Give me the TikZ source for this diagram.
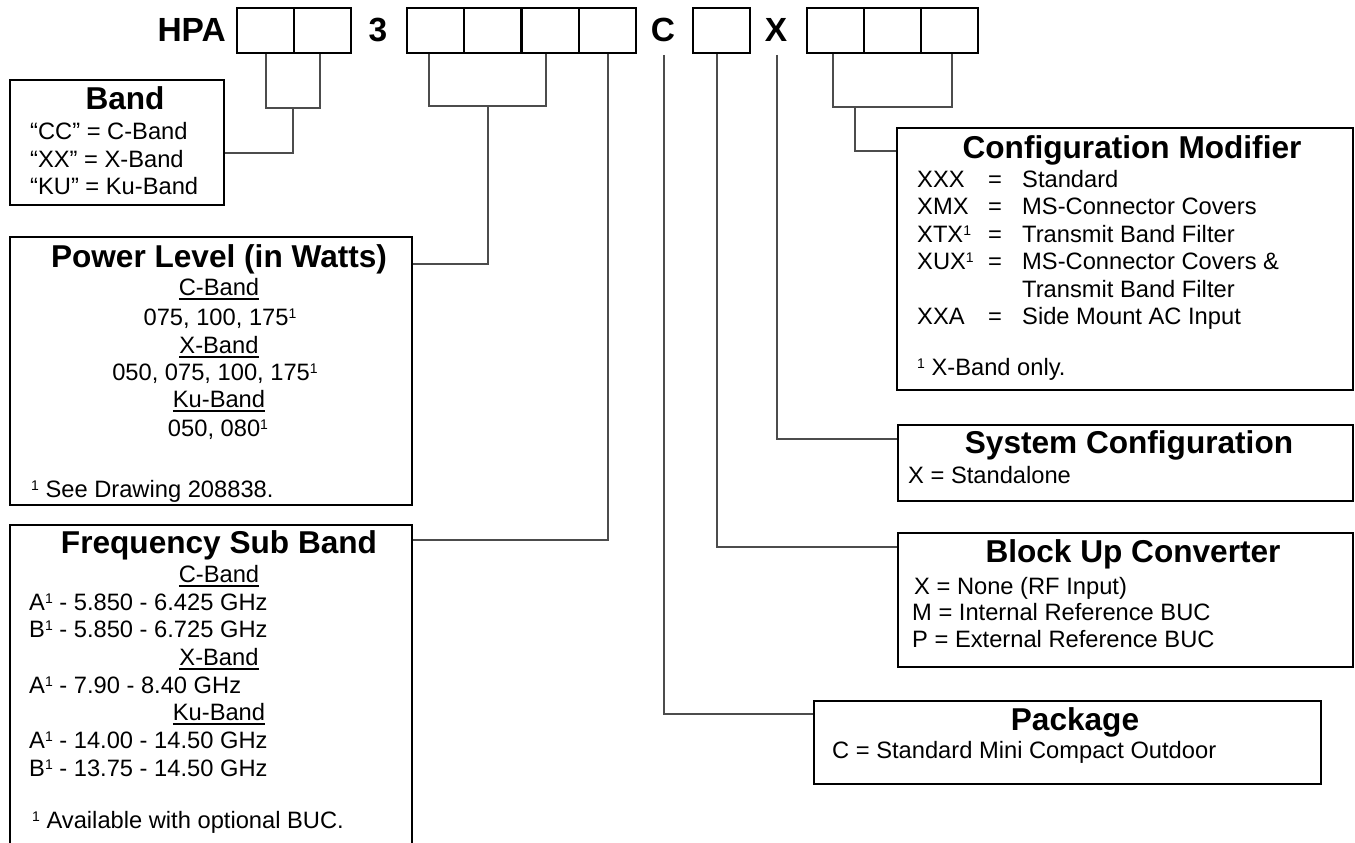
\documentclass[tikz,border=0pt]{standalone}
\usepackage{fontspec}
\setmainfont{Liberation Sans}
\newcommand\supone{\raisebox{7pt}{\fontsize{14}{14}\selectfont 1}}
\newcommand\ulword[1]{\sbox0{#1}\rlap{\rule[-5pt]{\wd0}{1.8pt}}\usebox0}
\tikzset{
  cell/.style={draw, line width=2.2pt, minimum width=57pt, minimum height=45pt, inner sep=0pt, anchor=north west},
  code/.style={font=\fontsize{33.5}{36}\selectfont\bfseries, inner sep=0pt, anchor=base},
  box/.style={draw, line width=1.8pt, inner sep=0pt, anchor=north west},
  conn/.style={draw=black!70, line width=1.4pt},
  ttl/.style={font=\fontsize{31.6}{34}\selectfont\bfseries, inner sep=0pt, anchor=base},
  txt/.style={font=\fontsize{23.7}{27}\selectfont, inner sep=0pt, anchor=base west},
  ctr/.style={font=\fontsize{23.7}{27}\selectfont, inner sep=0pt, anchor=base},
}
\begin{document}
\begin{tikzpicture}[x=1pt,y=-1pt]
\useasboundingbox (0,0) rectangle (1355,843);
\clip (0,0) rectangle (1355,843);
% code row
\node[code, anchor=base east] (hpa) at (226,42) {HPA};
\node[cell] (a1) at (236,7) {};
\node[cell] (a2) at (293,7) {};
\node[code] (three) at (378,42) {3};
\node[cell] (p1) at (406,7) {};
\node[cell] (p2) at (463,7) {};
\node[cell] (p3) at (521,7) {};
\node[cell] (p4) at (578,7) {};
\node[code] (cC) at (663,42) {C};
\node[cell] (cm) at (692,7) {};
\node[code] (cX) at (776,42) {X};
\node[cell] (q1) at (806,7) {};
\node[cell] (q2) at (863,7) {};
\node[cell] (q3) at (920,7) {};

% boxes
\node[box, minimum width=214pt, minimum height=125pt] (band) at (9,79) {};
\node[box, minimum width=402pt, minimum height=268pt] (power) at (9,236) {};
\node[box, minimum width=402pt, minimum height=340pt] (freq) at (9,524) {};
\node[box, minimum width=456pt, minimum height=262pt] (cfg) at (896,127) {};
\node[box, minimum width=455pt, minimum height=76pt] (sys) at (897,424) {};
\node[box, minimum width=455pt, minimum height=134pt] (buc) at (897,532) {};
\node[box, minimum width=507pt, minimum height=83pt] (pkg) at (813,700) {};

% connectors
\coordinate (jA) at (293,108);
\draw[conn] (a1.south -| 266,0) |- (jA) -| (a2.south -| 320,0);
\draw[conn] (jA) |- (band.east |- 0,153);
\coordinate (jB) at (488,106);
\draw[conn] (p1.south -| 429,0) |- (jB) -| (p3.south -| 546,0);
\draw[conn] (jB) |- (power.east |- 0,264);
\draw[conn] (p4.south -| 608,0) |- (freq.east |- 0,540);
\coordinate (cCb) at (664,55);
\draw[conn] (cCb) |- (pkg.west |- 0,714);
\draw[conn] (cm.south -| 717,0) |- (buc.west |- 0,547);
\coordinate (cXb) at (777,55);
\draw[conn] (cXb) |- (sys.west |- 0,439);
\coordinate (jC) at (855,107);
\draw[conn] (q1.south -| 833,0) |- (jC) -| (q3.south -| 952,0);
\draw[conn] (jC) |- (cfg.west |- 0,151);

% Band
\node[ttl] (bandT) at (125,110) {Band};
\node[txt] (band1) at (30,139) {“CC” = C-Band};
\node[txt] (band2) at (30,167) {“XX” = X-Band};
\node[txt] (band3) at (30,194) {“KU” = Ku-Band};

% Power
\node[ttl] (powT) at (219,267) {Power Level (in Watts)};
\node[ctr] (pow1) at (219,295) {\ulword{C-Band}};
\node[ctr] (pow2) at (220,325) {075, 100, 175\supone};
\node[ctr] (pow3) at (219,353) {\ulword{X-Band}};
\node[ctr] (pow4) at (215,380) {050, 075, 100, 175\supone};
\node[ctr] (pow5) at (219,407) {\ulword{Ku-Band}};
\node[ctr] (pow6) at (218,436) {050, 080\supone};
\node[txt] (pow7) at (31,497) {\supone\ See Drawing 208838.};

% Frequency
\node[ttl] (frqT) at (219,553) {Frequency Sub Band};
\node[ctr] (frq1) at (219,582) {\ulword{C-Band}};
\node[txt] (frq2) at (29,610) {A\supone\ - 5.850 - 6.425 GHz};
\node[txt] (frq3) at (29,637) {B\supone\ - 5.850 - 6.725 GHz};
\node[ctr] (frq4) at (219,665) {\ulword{X-Band}};
\node[txt] (frq5) at (29,693) {A\supone\ - 7.90 - 8.40 GHz};
\node[ctr] (frq6) at (219,720) {\ulword{Ku-Band}};
\node[txt] (frq7) at (29,748) {A\supone\ - 14.00 - 14.50 GHz};
\node[txt] (frq8) at (29,776) {B\supone\ - 13.75 - 14.50 GHz};
\node[txt] (frq9) at (32,828) {\supone\ Available with optional BUC.};

% Configuration Modifier
\node[ttl] (cfgT) at (1132,158) {Configuration Modifier};
\node[txt] (cfa1) at (917,187) {XXX};
\node[txt] (cfa2) at (917,214.5) {XMX};
\node[txt] (cfa3) at (917,242) {XTX\supone};
\node[txt] (cfa4) at (917,269.5) {XUX\supone};
\node[txt] (cfa6) at (917,324.5) {XXA};
\node[txt] (cfb1) at (988,187) {=};
\node[txt] (cfb2) at (988,214.5) {=};
\node[txt] (cfb3) at (988,242) {=};
\node[txt] (cfb4) at (988,269.5) {=};
\node[txt] (cfb6) at (988,324.5) {=};
\node[txt] (cfc1) at (1022,187) {Standard};
\node[txt] (cfc2) at (1022,214.5) {MS-Connector Covers};
\node[txt] (cfc3) at (1022,242) {Transmit Band Filter};
\node[txt] (cfc4) at (1022,269.5) {MS-Connector Covers \&};
\node[txt] (cfc5) at (1022,297) {Transmit Band Filter};
\node[txt] (cfc6) at (1022,324.5) {Side Mount AC Input};
\node[txt] (cfn) at (917,375) {\supone\ X-Band only.};

% System Configuration
\node[ttl] (sysT) at (1129,453) {System Configuration};
\node[txt] (sys1) at (908,483) {X = Standalone};

% Block Up Converter
\node[ttl] (bucT) at (1133,562) {Block Up Converter};
\node[txt] (buc1) at (914,594) {X = None (RF Input)};
\node[txt] (buc2) at (912,620) {M = Internal Reference BUC};
\node[txt] (buc3) at (912,647) {P = External Reference BUC};

% Package
\node[ttl] (pkgT) at (1075,730) {Package};
\node[txt] (pkg1) at (832,758) {C = Standard Mini Compact Outdoor};
\end{tikzpicture}
\end{document}
